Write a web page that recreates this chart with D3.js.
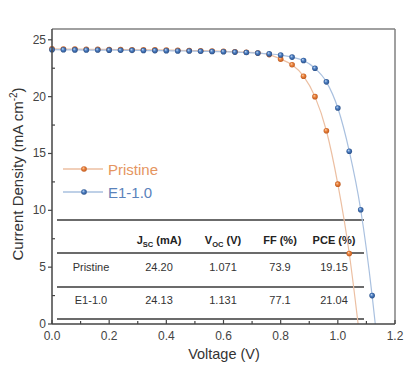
<!DOCTYPE html>
<html>
<head>
<meta charset="utf-8">
<script src="https://cdn.jsdelivr.net/npm/d3@7"></script>
<style>
body { margin: 0; background: #fff; }
text { font-family: "Liberation Sans", Arial, sans-serif; }
</style>
</head>
<body>
<div id="chart"></div>
<script>
var voltage = [0.00, 0.04, 0.08, 0.12, 0.16, 0.20, 0.24, 0.28, 0.32, 0.36, 0.40, 0.44, 0.48, 0.52,
    0.56, 0.60, 0.64, 0.68, 0.72, 0.76, 0.80, 0.84, 0.88, 0.92, 0.96, 1.00, 1.04, 1.08, 1.12];
var pristine = [24.20, 24.19, 24.18, 24.17, 24.16, 24.15, 24.14, 24.13, 24.12, 24.11, 24.10, 24.08, 24.06, 24.04,
    24.02, 23.99, 23.95, 23.90, 23.84, 23.70, 23.30, 22.80, 21.80, 20.00, 17.00, 12.30, 6.20];
var e1 = [24.13, 24.12, 24.11, 24.10, 24.10, 24.09, 24.08, 24.07, 24.06, 24.05, 24.04, 24.02, 24.01, 23.99,
    23.97, 23.95, 23.92, 23.88, 23.83, 23.76, 23.66, 23.48, 23.18, 22.50, 21.30, 19.00, 15.20, 10.05, 2.50];
var voc = [1.071, 1.131];
var seriesNames = ['Pristine', 'E1-1.0'];

var tableHeaders = ['Jsc (mA)', 'Voc (V)', 'FF (%)', 'PCE (%)'];
var tableRows = [
    ['Pristine', '24.20', '1.071', '73.9', '19.15'],
    ['E1-1.0', '24.13', '1.131', '77.1', '21.04']
];

var chart_width = 412;
var chart_height = 371;
var pLeft = 52, pRight = 395, pTop = 29, pBottom = 324;
var dotR = 2.8;

var svg = d3.select('#chart')
    .append('svg')
    .attr('width', chart_width)
    .attr('height', chart_height);

var x_scale = d3.scaleLinear().domain([0, 1.2]).range([pLeft, pRight]);
var y_scale = d3.scaleLinear().domain([0, 25.95]).range([pBottom, pTop]);

// gradientes das bolinhas
var defs = svg.append('defs');
function addGrad(id, light, mid, dark) {
    var g = defs.append('radialGradient').attr('id', id)
        .attr('cx', '50%').attr('cy', '50%').attr('r', '55%')
        .attr('fx', '35%').attr('fy', '32%');
    g.append('stop').attr('offset', '0%').attr('stop-color', light);
    g.append('stop').attr('offset', '45%').attr('stop-color', mid);
    g.append('stop').attr('offset', '100%').attr('stop-color', dark);
}
addGrad('gOrange', '#fbd2ad', '#e9803a', '#b8541b');
addGrad('gBlue', '#c9dcf3', '#4a7cc0', '#24487f');

// moldura
svg.append('line').attr('x1', pLeft).attr('x2', pRight).attr('y1', pTop).attr('y2', pTop)
    .attr('stroke', '#808080').attr('stroke-width', 1.5);
svg.append('line').attr('x1', pRight).attr('x2', pRight).attr('y1', pTop).attr('y2', pBottom)
    .attr('stroke', '#808080').attr('stroke-width', 1.5);

// tabela
var tableLines = [220, 253, 287, 319];
svg.selectAll('.tline')
    .data(tableLines)
    .enter()
    .append('line')
    .attr('x1', 57).attr('x2', 364)
    .attr('y1', function (d) { return d; })
    .attr('y2', function (d) { return d; })
    .attr('stroke', '#3a3a3a').attr('stroke-width', 1.4);

var colX = [91, 159, 223, 280, 334];
var hdr = svg.append('g').attr('font-size', 11).attr('font-weight', 'bold').attr('fill', '#222');
function subHeader(x, main, sub, rest) {
    var t = hdr.append('text').attr('x', x).attr('y', 244).attr('text-anchor', 'middle');
    t.append('tspan').text(main);
    t.append('tspan').attr('font-size', 7.5).attr('dy', 2.5).text(sub);
    t.append('tspan').attr('dy', -2.5).text(rest);
}
subHeader(colX[1], 'J', 'SC', ' (mA)');
subHeader(colX[2], 'V', 'OC', ' (V)');
hdr.append('text').attr('x', colX[3]).attr('y', 244).attr('text-anchor', 'middle').text(tableHeaders[2]);
hdr.append('text').attr('x', colX[4]).attr('y', 244).attr('text-anchor', 'middle').text(tableHeaders[3]);

var rowY = [271, 304];
tableRows.forEach(function (row, i) {
    svg.selectAll('.r' + i)
        .data(row)
        .enter()
        .append('text')
        .attr('x', function (d, j) { return colX[j]; })
        .attr('y', rowY[i])
        .attr('text-anchor', 'middle')
        .attr('font-size', 11)
        .attr('fill', '#333')
        .text(function (d) { return d; });
});

// curvas
var line = d3.line()
    .x(function (d) { return x_scale(d[0]); })
    .y(function (d) { return y_scale(d[1]); })
    .curve(d3.curveMonotoneX);

var series = [
    { vals: pristine, voc: voc[0], line: '#ecbfa2', grad: 'url(#gOrange)' },
    { vals: e1, voc: voc[1], line: '#a9c0df', grad: 'url(#gBlue)' }
];
series.forEach(function (s) {
    var pts = s.vals.map(function (v, i) { return [voltage[i], v]; });
    svg.append('path')
        .datum(pts.concat([[s.voc, 0]]))
        .attr('d', line)
        .attr('fill', 'none')
        .attr('stroke', s.line)
        .attr('stroke-width', 1.2);
});
series.forEach(function (s) {
    var pts = s.vals.map(function (v, i) { return [voltage[i], v]; });
    svg.append('g').selectAll('circle')
        .data(pts)
        .enter()
        .append('circle')
        .attr('cx', function (d) { return x_scale(d[0]); })
        .attr('cy', function (d) { return y_scale(d[1]); })
        .attr('r', dotR)
        .attr('fill', s.grad);
});

// eixos
var xAxis = svg.append('g').attr('transform', 'translate(0,' + pBottom + ')');
xAxis.append('line').attr('x1', pLeft).attr('x2', pRight).attr('stroke', '#444').attr('stroke-width', 1.5);
xAxis.selectAll('.xt')
    .data(d3.range(0, 13).map(function (i) { return i / 10; }))
    .enter()
    .append('line')
    .attr('x1', function (d) { return x_scale(d); })
    .attr('x2', function (d) { return x_scale(d); })
    .attr('y1', 0)
    .attr('y2', function (d, i) { return i % 2 === 0 ? -4 : -3; })
    .attr('stroke', '#444').attr('stroke-width', 1.2);
xAxis.selectAll('.xl')
    .data(x_scale.ticks(6))
    .enter()
    .append('text')
    .attr('x', function (d) { return x_scale(d); })
    .attr('y', 16)
    .attr('text-anchor', 'middle')
    .attr('font-size', 12)
    .attr('fill', '#444')
    .text(d3.format('.1f'));

var yAxis = svg.append('g');
yAxis.append('line').attr('x1', pLeft).attr('x2', pLeft).attr('y1', pTop).attr('y2', pBottom)
    .attr('stroke', '#444').attr('stroke-width', 1.5);
yAxis.selectAll('.yt')
    .data([0, 2.5, 5, 7.5, 10, 12.5, 15, 17.5, 20, 22.5, 25])
    .enter()
    .append('line')
    .attr('x1', function (d, i) { return i % 2 === 0 ? pLeft - 4 : pLeft; })
    .attr('x2', function (d, i) { return i % 2 === 0 ? pLeft : pLeft + 3; })
    .attr('y1', function (d) { return y_scale(d); })
    .attr('y2', function (d) { return y_scale(d); })
    .attr('stroke', '#444').attr('stroke-width', 1.2);
yAxis.selectAll('.yl')
    .data([0, 5, 10, 15, 20, 25])
    .enter()
    .append('text')
    .attr('x', pLeft - 6)
    .attr('y', function (d) { return y_scale(d) + 4; })
    .attr('text-anchor', 'end')
    .attr('font-size', 12)
    .attr('fill', '#444')
    .text(function (d) { return d; });

// titulos
svg.append('text')
    .attr('x', 224).attr('y', 359)
    .attr('text-anchor', 'middle')
    .attr('font-size', 14.5)
    .attr('fill', '#333')
    .text('Voltage (V)');
var yt = svg.append('text')
    .attr('transform', 'translate(23,174) rotate(-90)')
    .attr('text-anchor', 'middle')
    .attr('font-size', 15)
    .attr('fill', '#333');
yt.append('tspan').text('Current Density (mA cm');
yt.append('tspan').attr('font-size', 10).attr('dy', -6).text('-2');
yt.append('tspan').attr('dy', 6).text(')');

// legenda
var legend = [
    { y: 169, line: '#ecbfa2', grad: 'url(#gOrange)', color: '#e59560' },
    { y: 192, line: '#a9c0df', grad: 'url(#gBlue)', color: '#5a82bb' }
];
legend.forEach(function (l, i) {
    svg.append('line').attr('x1', 63).attr('x2', 103).attr('y1', l.y).attr('y2', l.y)
        .attr('stroke', l.line).attr('stroke-width', 1.3);
    svg.append('circle').attr('cx', 84).attr('cy', l.y).attr('r', dotR).attr('fill', l.grad);
    svg.append('text').attr('x', 108).attr('y', l.y + 5.5)
        .attr('font-size', 15).attr('fill', l.color).text(seriesNames[i]);
});
</script>
</body>
</html>
